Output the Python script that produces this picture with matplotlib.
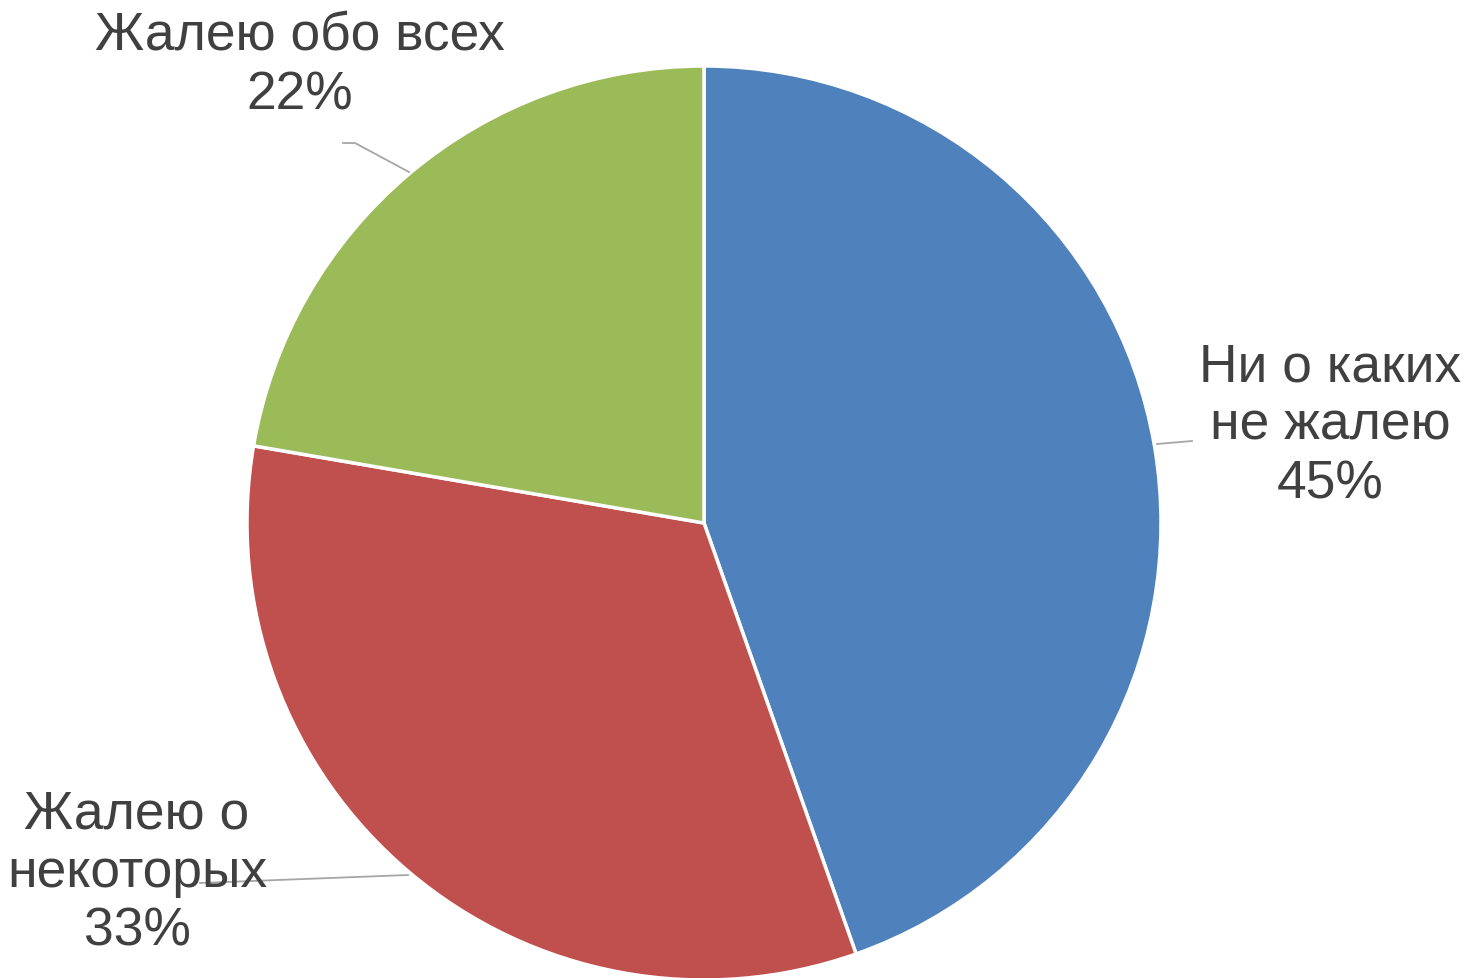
import matplotlib
matplotlib.use("Agg")
import matplotlib.pyplot as plt

categories = ["Ни о каких\nне жалею", "Жалею о\nнекоторых", "Жалею обо всех"]
values = [44.6, 33.1, 22.3]
colors = ["#4F81BD", "#C0504D", "#9BBB59"]

W, H = 1480, 979
fig = plt.figure(figsize=(W / 100, H / 100), dpi=100)
ax = fig.add_axes([0, 0, 1, 1])

cx, cy, r = 704, H - 524, 457
ax.pie(values, colors=colors, startangle=90, counterclock=False,
       center=(cx, cy), radius=r, frame=True,
       wedgeprops=dict(edgecolor="white", linewidth=2.5))
ax.set_xlim(0, W)
ax.set_ylim(0, H)
ax.set_aspect("equal")
ax.axis("off")

lc = "#A6A6A6"
def P(pts):
    xs = [p[0] for p in pts]
    ys = [H - p[1] for p in pts]
    return xs, ys

for pts in ([(1157, 445), (1192, 442)],
            [(408, 876), (200, 884)],
            [(409, 173), (355, 144), (343, 144)]):
    xs, ys = P(pts)
    ax.plot(xs, ys, color=lc, lw=1.3, zorder=1)

tc = "#404040"
fs = 38.4
total = sum(values)
labels_pos = [(1330, 426), (137, 873), (300, 66)]
for (lab, v), (x, y) in zip(zip(categories, values), labels_pos):
    ax.text(x, H - y, f"{lab}\n{round(v / total * 100):.0f}%", ha="center", va="center",
            fontsize=fs, color=tc, family=["Liberation Sans", "DejaVu Sans"],
            linespacing=1.22, zorder=3)

fig.savefig("out.png", dpi=100, facecolor="white")
